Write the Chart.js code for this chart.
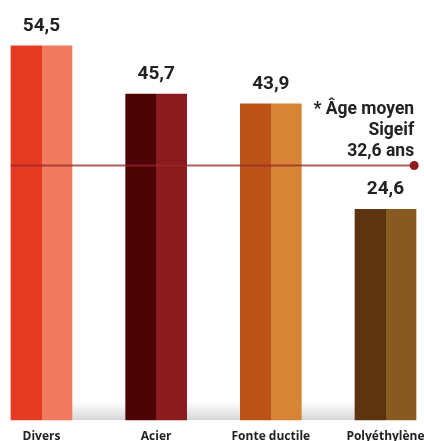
<!DOCTYPE html>
<html>
<head>
<meta charset="utf-8">
<script src="https://cdn.jsdelivr.net/npm/chart.js@4.4.1/dist/chart.umd.min.js"></script>
<style>
  html, body { margin: 0; padding: 0; background: #ffffff; }
  #wrap { position: relative; width: 424px; height: 441px; }
</style>
</head>
<body>
<div id="wrap"><canvas id="c" width="424" height="441"></canvas></div>
<script>
// ---- Data ----
const categories = ["Divers", "Acier", "Fonte ductile", "Polyéthylène"];
const ages = [54.5, 45.7, 43.9, 24.6];
const valueLabels = ["54,5", "45,7", "43,9", "24,6"];
const averageAge = 32.6;
const averageLines = ["* Âge moyen", "Sigeif", "32,6 ans"];
const darkColors = ["#E63B22", "#4C0306", "#BC5419", "#5C3510"];
const lightColors = ["#F27B5F", "#8A1C1F", "#D78436", "#875A21"];

// style constants
const BAR_W = 61;
const avgLineX = [-0.27, 3.25]; // horizontal extent of the average line (category-index units)

function twoTone(c) {
  const chart = c.chart;
  const i = c.dataIndex;
  if (i === undefined || !chart.chartArea || !chart.scales.x) return darkColors[0];
  const px = chart.scales.x.getPixelForValue(i);
  const g = chart.ctx.createLinearGradient(px - BAR_W / 2, 0, px + BAR_W / 2, 0);
  g.addColorStop(0, darkColors[i]);
  g.addColorStop(0.5, darkColors[i]);
  g.addColorStop(0.5, lightColors[i]);
  g.addColorStop(1, lightColors[i]);
  return g;
}

const decorPlugin = {
  id: 'decor',
  beforeDatasetsDraw(chart) {
    const { ctx } = chart;
    const bars = chart.getDatasetMeta(0).data;
    const y0 = chart.scales.y.bottom;
    const left = bars[0].x - bars[0].width / 2;
    const right = bars[bars.length - 1].x + bars[bars.length - 1].width / 2;
    const g = ctx.createLinearGradient(0, y0 - 18, 0, y0);
    g.addColorStop(0, 'rgba(255,255,255,1)');
    g.addColorStop(1, 'rgba(214,214,214,1)');
    ctx.save();
    ctx.fillStyle = g;
    ctx.fillRect(left, y0 - 18, right - left, 18);
    ctx.restore();
  },
  afterDatasetsDraw(chart) {
    const { ctx } = chart;
    const bars = chart.getDatasetMeta(0).data;
    ctx.save();
    ctx.fillStyle = '#222222';
    ctx.textAlign = 'center';
    ctx.textBaseline = 'alphabetic';
    ctx.font = 'bold 19px Roboto, "Liberation Sans", sans-serif';
    bars.forEach((bar, i) => {
      ctx.fillText(valueLabels[i], bar.x, bar.y - 15);
    });
    // end dot of the average line
    const pts = chart.getDatasetMeta(1).data;
    const end = pts[pts.length - 1];
    ctx.fillStyle = '#8E1B1D';
    ctx.beginPath();
    ctx.arc(end.x, end.y, 4.5, 0, Math.PI * 2);
    ctx.fill();
    // annotation
    ctx.fillStyle = '#222222';
    ctx.textAlign = 'right';
    ctx.font = 'bold 17.5px Roboto, "Liberation Sans", sans-serif';
    const n = averageLines.length;
    averageLines.forEach((t, k) => {
      ctx.fillText(t, end.x, end.y - 10 - (n - 1 - k) * 21);
    });
    ctx.restore();
  }
};

new Chart(document.getElementById('c'), {
  type: 'bar',
  data: {
    labels: categories,
    datasets: [
      {
        data: ages,
        backgroundColor: twoTone,
        borderWidth: 0,
        barThickness: BAR_W,
        grouped: false,
        base: -14,
        clip: false,
        order: 1
      },
      {
        type: 'line',
        xAxisID: 'xl',
        data: [{ x: avgLineX[0], y: averageAge }, { x: avgLineX[1], y: averageAge }],
        borderColor: 'rgba(150,40,40,0.75)',
        borderWidth: 2,
        pointRadius: 0,
        clip: false,
        order: 0
      }
    ]
  },
  options: {
    responsive: false,
    animation: false,
    events: [],
    layout: {
      autoPadding: false,
      padding: { top: 5, left: 41.5, right: 38.5, bottom: 0 }
    },
    plugins: {
      legend: { display: false },
      tooltip: { enabled: false },
      title: { display: false }
    },
    scales: {
      x: {
        offset: false,
        grid: { display: false },
        border: { display: false },
        ticks: {
          color: '#222222',
          padding: 1,
          maxRotation: 0,
          autoSkip: false,
          font: { family: '"Open Sans", sans-serif', weight: 'bold', size: 12 }
        },
        afterFit(scale) {
          scale.height = 21;
          scale.paddingLeft = 0;
          scale.paddingRight = 0;
        }
      },
      xl: {
        type: 'linear',
        display: false,
        min: 0,
        max: 3,
        offset: false
      },
      y: {
        display: false,
        min: -14,
        max: 62
      }
    }
  },
  plugins: [decorPlugin]
});
</script>
</body>
</html>
